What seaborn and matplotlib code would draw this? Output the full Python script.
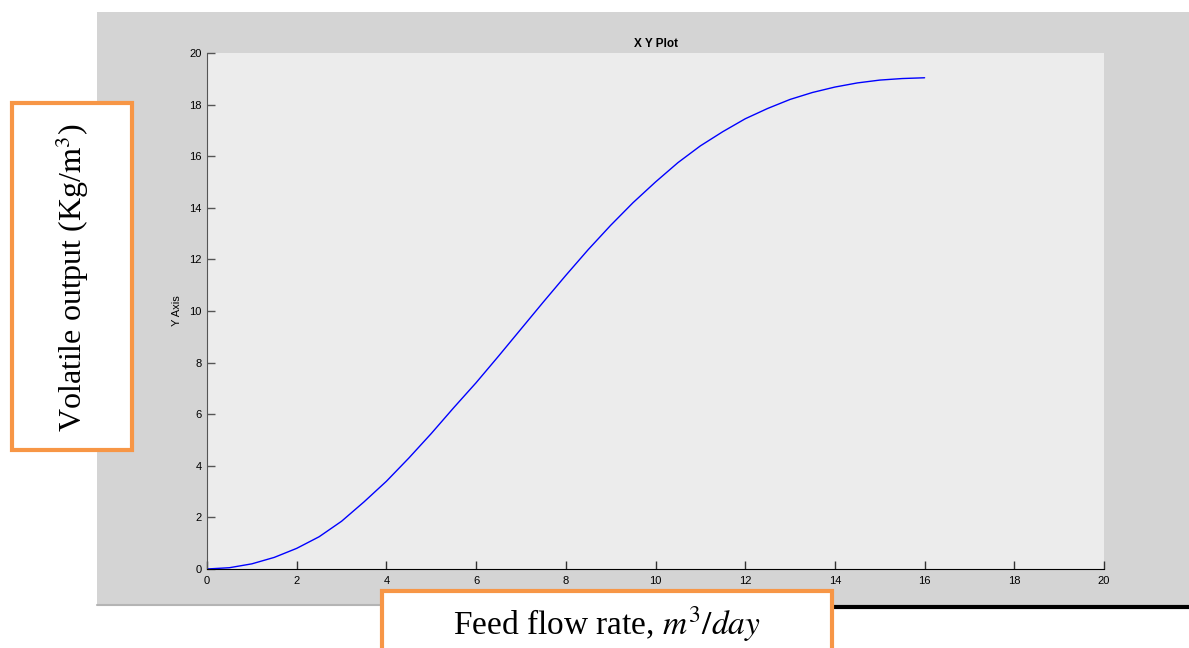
import matplotlib as mat
import matplotlib.pyplot as plt
import seaborn as sns
from matplotlib.patches import Rectangle
from matplotlib.lines import Line2D

# curve
feed = [0, 0.5, 1, 1.5, 2, 2.5, 3, 3.5, 4, 4.5, 5, 5.5, 6, 6.5, 7, 7.5, 8,
        8.5, 9, 9.5, 10, 10.5, 11, 11.5, 12, 12.5, 13, 13.5, 14, 14.5, 15, 15.5, 16]
volatile = [0, 0.05, 0.2, 0.45, 0.8, 1.25, 1.85, 2.6, 3.4, 4.3, 5.25, 6.25, 7.22,
            8.25, 9.3, 10.35, 11.38, 12.38, 13.32, 14.2, 15.0, 15.75, 16.4, 16.95,
            17.45, 17.85, 18.2, 18.47, 18.68, 18.84, 18.95, 19.01, 19.04]
xticks = list(range(0, 21, 2))
yticks = list(range(0, 21, 2))

sns.set_style('ticks', {'axes.facecolor': '#ececec'})
mat.rc('font', family=['Liberation Sans', 'DejaVu Sans'])
mat.rc('mathtext', fontset='stix')

fig = plt.figure(figsize=(11.89, 6.48), dpi=100)
fig.patch.set_facecolor('white')

# gray window panel behind the axes
fig.patches.append(Rectangle((97/1189, 43/648), 1 - 97/1189, 593/648,
                             transform=fig.transFigure, facecolor='#d4d4d4',
                             edgecolor='none', zorder=-2))
fig.lines.append(Line2D([97/1189, 380/1189], [43.5/648, 43.5/648], transform=fig.transFigure,
                        color='#b4b4b4', lw=1.5, zorder=-1))
fig.lines.append(Line2D([834/1189, 1], [41/648, 41/648], transform=fig.transFigure,
                        color='black', lw=3, zorder=-1))

ax = fig.add_axes([207/1189, 79/648, 897/1189, 516/648])
ax.set_zorder(1)
sns.lineplot(x=feed, y=volatile, color='blue', lw=1, ax=ax)
ax.set_xlim(0, 20)
ax.set_ylim(0, 20)
ax.set_xticks(xticks)
ax.set_yticks(yticks)
ax.tick_params(axis='x', direction='in', length=6, width=1, labelsize=8, pad=5,
               color='#333333', labelcolor='black')
ax.tick_params(axis='y', direction='in', length=6, width=1, labelsize=8, pad=4,
               color='#555555', labelcolor='black')
for s in ['top', 'right']:
    ax.spines[s].set_visible(False)
ax.spines['left'].set_color('#555555')
ax.spines['bottom'].set_color('black')
ax.set_title('X Y Plot', fontsize=8.5, fontweight='bold', pad=4, color='black')
ax.set_ylabel('Y Axis', fontsize=8, labelpad=5, color='black')

# orange annotation boxes
fig.patches.append(Rectangle((12/1189, 198/648), 120/1189, 347/648, transform=fig.transFigure,
                             facecolor='white', edgecolor='#f79646', lw=3, zorder=3))
fig.text(72/1189, 1 - 278/648, r'Volatile output (Kg/$\mathrm{m}^3$)', rotation=90,
         ha='center', va='center', fontsize=23, family='Liberation Serif', color='black', zorder=4)
fig.patches.append(Rectangle((382/1189, -0.05), 450/1189, 57/648 + 0.05, transform=fig.transFigure,
                             facecolor='white', edgecolor='#f79646', lw=3, zorder=3))
fig.text(607/1189, 1 - 624/648, r'Feed flow rate, $m^3/day$', ha='center', va='center',
         fontsize=24, family='Liberation Serif', color='black', zorder=4)

fig.savefig('out.png', dpi=100)
